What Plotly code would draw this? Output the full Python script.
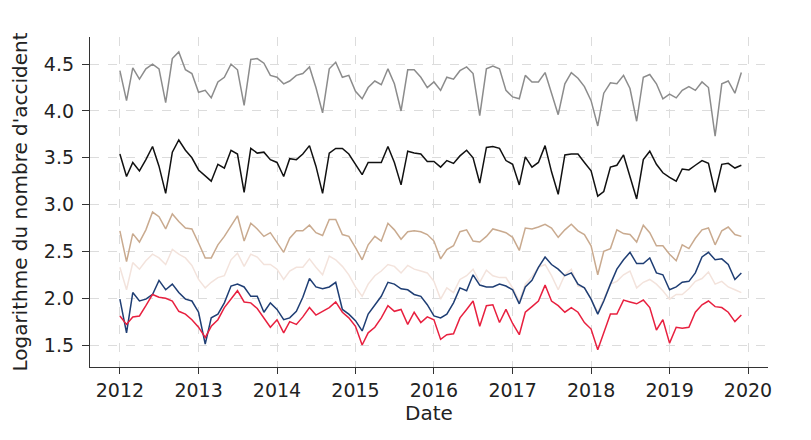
import pandas as pd
import plotly.graph_objects as go

dates = pd.date_range("2012-01-01", periods=96, freq="MS")

gray_vals = [4.43, 4.11, 4.46, 4.34, 4.45, 4.50, 4.45, 4.09, 4.56, 4.63, 4.44, 4.40,
             4.20, 4.22, 4.14, 4.31, 4.36, 4.50, 4.44, 4.06, 4.55, 4.56, 4.51, 4.38,
             4.36, 4.29, 4.32, 4.38, 4.40, 4.47, 4.25, 3.98, 4.45, 4.52, 4.36, 4.38,
             4.21, 4.13, 4.25, 4.32, 4.28, 4.45, 4.29, 4.00, 4.44, 4.44, 4.36, 4.25,
             4.31, 4.22, 4.36, 4.34, 4.43, 4.47, 4.40, 3.95, 4.45, 4.48, 4.45, 4.22,
             4.15, 4.13, 4.38, 4.31, 4.31, 4.41, 4.19, 3.96, 4.29, 4.41, 4.35, 4.26,
             4.11, 3.84, 4.19, 4.30, 4.29, 4.38, 4.24, 3.89, 4.36, 4.39, 4.29, 4.13,
             4.18, 4.14, 4.22, 4.26, 4.22, 4.31, 4.25, 3.73, 4.29, 4.32, 4.19, 4.41]

black_vals = [3.54, 3.30, 3.45, 3.36, 3.48, 3.62, 3.41, 3.12, 3.56, 3.69, 3.58, 3.50,
              3.37, 3.31, 3.25, 3.43, 3.39, 3.58, 3.54, 3.13, 3.60, 3.55, 3.56, 3.48,
              3.45, 3.30, 3.49, 3.48, 3.54, 3.63, 3.41, 3.12, 3.55, 3.60, 3.60, 3.54,
              3.43, 3.32, 3.45, 3.45, 3.45, 3.62, 3.45, 3.21, 3.57, 3.55, 3.54, 3.46,
              3.46, 3.40, 3.47, 3.44, 3.52, 3.58, 3.50, 3.23, 3.61, 3.62, 3.60, 3.47,
              3.43, 3.21, 3.51, 3.40, 3.45, 3.63, 3.35, 3.11, 3.53, 3.54, 3.54, 3.45,
              3.36, 3.09, 3.14, 3.40, 3.42, 3.53, 3.29, 3.06, 3.48, 3.57, 3.43, 3.34,
              3.29, 3.25, 3.38, 3.37, 3.42, 3.47, 3.44, 3.13, 3.43, 3.44, 3.39, 3.42]

tan_vals = [2.72, 2.39, 2.69, 2.60, 2.73, 2.92, 2.87, 2.74, 2.90, 2.82, 2.75, 2.74,
            2.59, 2.43, 2.43, 2.57, 2.66, 2.77, 2.88, 2.61, 2.80, 2.74, 2.66, 2.70,
            2.59, 2.49, 2.64, 2.72, 2.72, 2.78, 2.70, 2.67, 2.84, 2.84, 2.68, 2.66,
            2.54, 2.41, 2.57, 2.66, 2.61, 2.80, 2.73, 2.63, 2.71, 2.72, 2.71, 2.68,
            2.61, 2.42, 2.52, 2.56, 2.71, 2.73, 2.61, 2.60, 2.66, 2.74, 2.72, 2.70,
            2.65, 2.51, 2.75, 2.74, 2.76, 2.79, 2.75, 2.65, 2.73, 2.79, 2.72, 2.68,
            2.56, 2.25, 2.50, 2.53, 2.73, 2.69, 2.68, 2.60, 2.78, 2.70, 2.56, 2.56,
            2.47, 2.40, 2.57, 2.53, 2.64, 2.73, 2.75, 2.57, 2.72, 2.76, 2.68, 2.66]

pink_vals = [2.33, 2.09, 2.38, 2.31, 2.40, 2.47, 2.43, 2.36, 2.52, 2.47, 2.43, 2.35,
             2.20, 2.11, 2.17, 2.22, 2.24, 2.41, 2.48, 2.34, 2.47, 2.44, 2.36, 2.36,
             2.31, 2.20, 2.29, 2.33, 2.33, 2.42, 2.33, 2.25, 2.45, 2.41, 2.34, 2.25,
             2.12, 2.02, 2.15, 2.24, 2.29, 2.36, 2.34, 2.27, 2.35, 2.31, 2.29, 2.27,
             2.18, 1.99, 2.11, 2.06, 2.20, 2.24, 2.31, 2.17, 2.30, 2.24, 2.22, 2.22,
             2.11, 1.97, 2.15, 2.23, 2.33, 2.36, 2.24, 2.09, 2.25, 2.31, 2.13, 2.11,
             1.99, 1.85, 1.99, 2.15, 2.18, 2.25, 2.29, 2.11, 2.17, 2.20, 2.15, 2.08,
             1.99, 2.04, 2.04, 2.10, 2.18, 2.21, 2.28, 2.15, 2.18, 2.12, 2.09, 2.06]

blue_vals = [1.99, 1.63, 2.06, 1.97, 1.99, 2.04, 2.19, 2.09, 2.15, 2.06, 1.99, 1.97,
             1.85, 1.51, 1.79, 1.83, 1.95, 2.13, 2.15, 2.12, 2.02, 2.02, 1.85, 1.95,
             1.88, 1.77, 1.79, 1.86, 2.01, 2.21, 2.12, 2.10, 2.12, 2.17, 1.88, 1.83,
             1.76, 1.65, 1.83, 1.92, 2.02, 2.17, 2.15, 2.10, 2.09, 2.04, 2.02, 1.93,
             1.81, 1.79, 1.83, 1.95, 2.11, 2.08, 2.25, 2.14, 2.12, 2.12, 2.15, 2.13,
             2.09, 1.94, 2.12, 2.19, 2.33, 2.44, 2.36, 2.31, 2.24, 2.27, 2.15, 2.11,
             1.99, 1.83, 1.97, 2.15, 2.31, 2.41, 2.49, 2.37, 2.37, 2.43, 2.27, 2.25,
             2.09, 2.12, 2.17, 2.18, 2.27, 2.44, 2.49, 2.41, 2.42, 2.36, 2.20, 2.27]

red_vals = [1.81, 1.72, 1.80, 1.81, 1.92, 2.04, 2.01, 2.00, 1.97, 1.86, 1.83, 1.77,
            1.69, 1.58, 1.70, 1.77, 1.90, 1.99, 2.08, 1.96, 1.95, 1.89, 1.79, 1.69,
            1.77, 1.63, 1.75, 1.72, 1.80, 1.90, 1.82, 1.86, 1.90, 1.96, 1.85, 1.79,
            1.70, 1.50, 1.63, 1.69, 1.79, 1.92, 1.86, 1.88, 1.72, 1.85, 1.74, 1.80,
            1.77, 1.56, 1.61, 1.62, 1.79, 1.88, 1.97, 1.70, 1.92, 1.93, 1.74, 1.88,
            1.73, 1.61, 1.85, 1.91, 1.97, 2.14, 1.97, 1.92, 1.85, 1.90, 1.85, 1.74,
            1.67, 1.45, 1.63, 1.83, 1.83, 1.98, 1.96, 1.94, 1.98, 1.90, 1.66, 1.77,
            1.52, 1.69, 1.68, 1.69, 1.85, 1.93, 1.97, 1.91, 1.90, 1.85, 1.75, 1.82]

series = [
    (gray_vals, "#8c8c8c"),
    (black_vals, "#111111"),
    (tan_vals, "#c9aa8f"),
    (pink_vals, "#f3e3dc"),
    (blue_vals, "#1f3e74"),
    (red_vals, "#e8203f"),
]

fig = go.Figure()
for vals, color in series:
    fig.add_trace(go.Scatter(x=dates, y=vals, mode="lines",
                             line=dict(color=color, width=1.5),
                             showlegend=False))

font_family = "DejaVu Sans"
fig.update_layout(
    width=811, height=440,
    margin=dict(l=82, r=51, t=29, b=81, autoexpand=False),
    paper_bgcolor="white", plot_bgcolor="white",
    font=dict(family=font_family, size=19, color="#222222"),
    showlegend=False,
)
fig.update_xaxes(
    automargin=False,
    range=["2011-08-15", "2020-04-03"],
    tickformat="%Y", dtick="M12", tick0="2012-01-01",
    showgrid=True, gridcolor="#dcdcdc", griddash="dash", gridwidth=1,
    showline=True, linecolor="#333333", linewidth=1.3,
    ticks="outside", ticklen=6, tickcolor="#333333",
    title=dict(text="Date", font=dict(size=20), standoff=2),
    zeroline=False,
)
fig.update_yaxes(
    automargin=False,
    range=[1.265, 4.79],
    tickvals=[1.5, 2.0, 2.5, 3.0, 3.5, 4.0, 4.5],
    ticktext=["1.5", "2.0", "2.5", "3.0", "3.5", "4.0", "4.5"],
    showgrid=True, gridcolor="#dcdcdc", griddash="dash", gridwidth=1,
    showline=True, linecolor="#333333", linewidth=1.3,
    ticks="outside", ticklen=7, tickcolor="#333333",
    ticklabelstandoff=4,
    title=dict(text="Logarithme du nombre d'accident", font=dict(size=20), standoff=10),
    zeroline=False,
)

fig.write_html("out.html")
